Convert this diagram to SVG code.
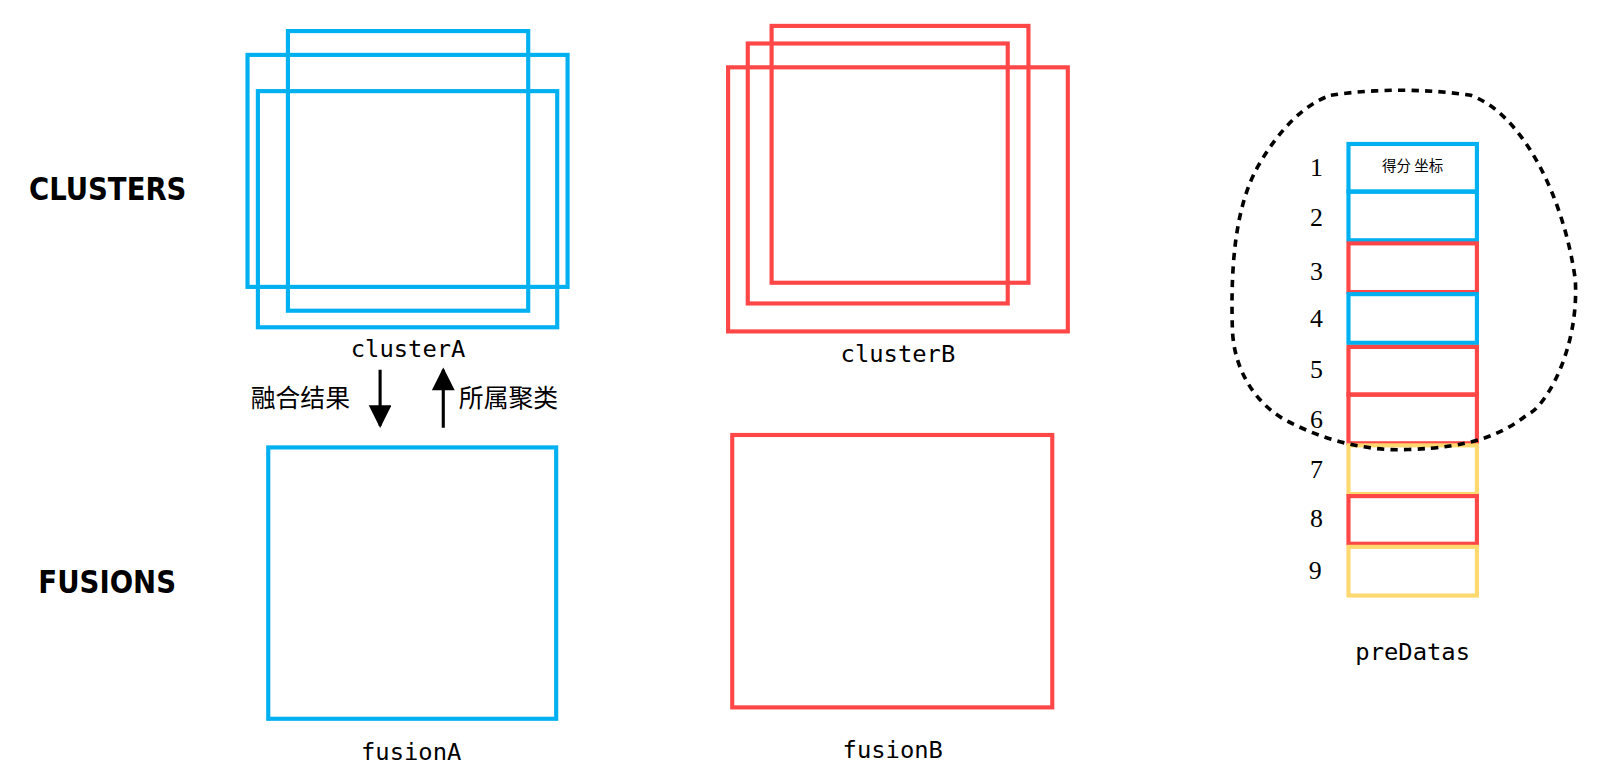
<svg xmlns="http://www.w3.org/2000/svg" width="1624" height="781" viewBox="0 0 1624 781">
<style>
.b{fill:none;stroke:#00B0F0;stroke-width:4}
.r{fill:none;stroke:#FF4747;stroke-width:4}
.y{fill:none;stroke:#FFD970;stroke-width:4}
.m{font-family:"DejaVu Sans Mono","Liberation Mono",monospace;font-size:23px;text-anchor:middle;fill:#000}
.h{font-family:"DejaVu Sans","Liberation Sans",sans-serif;font-weight:bold;font-size:30px;fill:#000}
.n{font-family:"Liberation Serif",serif;font-size:25px;text-anchor:middle;fill:#000}
.c{font-family:"Noto Sans CJK SC",sans-serif;font-size:24px;fill:#000}
</style>
<defs>
<marker id="ah" viewBox="0 0 10 10" refX="9" refY="5" markerWidth="28" markerHeight="22" markerUnits="userSpaceOnUse" orient="auto"><path d="M0,0 L10,5 L0,10 Z" fill="#000"/></marker></defs>
<g transform="scale(1.0357)">
<text class="h" x="28" y="193" textLength="152" lengthAdjust="spacingAndGlyphs">CLUSTERS</text>
<text class="h" x="37" y="573" textLength="133" lengthAdjust="spacingAndGlyphs">FUSIONS</text>
<g id="clusterA"><rect class="b" x="278" y="30" width="232" height="270"/><rect class="b" x="239" y="53" width="309" height="224"/><rect class="b" x="249" y="88" width="289" height="228"/><text class="m" x="394" y="345">clusterA</text></g>
<g id="clusterB"><rect class="r" x="745" y="25" width="248" height="248"/><rect class="r" x="722" y="42" width="251" height="251"/><rect class="r" x="703" y="65" width="328" height="255"/><text class="m" x="867" y="350">clusterB</text></g>
<g id="fusionA"><rect class="b" x="259" y="432" width="278" height="262"/><text class="m" x="397" y="734">fusionA</text></g>
<g id="fusionB"><rect class="r" x="707" y="420" width="309" height="263"/><text class="m" x="862" y="732">fusionB</text></g>
<g id="connectors"><line x1="367" y1="357" x2="367" y2="411" stroke="#000" stroke-width="3" marker-end="url(#ah)"/><line x1="428" y1="413" x2="428" y2="357" stroke="#000" stroke-width="3" marker-end="url(#ah)"/></g>
<text class="c" x="242" y="393">融合结果</text>
<text class="c" x="443" y="393">所属聚类</text>
<g id="preDatas">
<rect class="b" x="1302" y="139" width="124" height="46"/><rect class="b" x="1302" y="185" width="124" height="47"/>
<rect class="r" x="1302" y="235" width="124" height="47"/><rect class="b" x="1302" y="284" width="124" height="47"/>
<rect class="r" x="1302" y="335" width="124" height="46"/><rect class="r" x="1302" y="381" width="124" height="47"/>
<rect class="y" x="1302" y="430" width="124" height="47"/><rect class="r" x="1302" y="479" width="124" height="46"/>
<rect class="y" x="1302" y="528" width="124" height="47"/>
<text class="c" x="1364" y="165" style="font-size:14px" text-anchor="middle">得分 坐标</text>
<text class="n" x="1271" y="170">1</text><text class="n" x="1271" y="218">2</text><text class="n" x="1271" y="270">3</text><text class="n" x="1271" y="316">4</text><text class="n" x="1271" y="365">5</text><text class="n" x="1271" y="413">6</text><text class="n" x="1271" y="462">7</text><text class="n" x="1271" y="509">8</text><text class="n" x="1270" y="559">9</text>
<text class="m" x="1364" y="637">preDatas</text>
</g>
<path d="M1285,92 C1330,85 1380,86 1420,92 C1470,110 1510,190 1521,270 C1525,340 1490,395 1475,400 C1450,420 1420,432 1360,434 C1320,436 1280,425 1250,410 C1215,395 1192,360 1190,320 C1188,260 1192,200 1215,160 C1235,125 1260,100 1285,92 Z" fill="none" stroke="#000" stroke-width="3.5" stroke-dasharray="7,6"/>
</g>
</svg>
